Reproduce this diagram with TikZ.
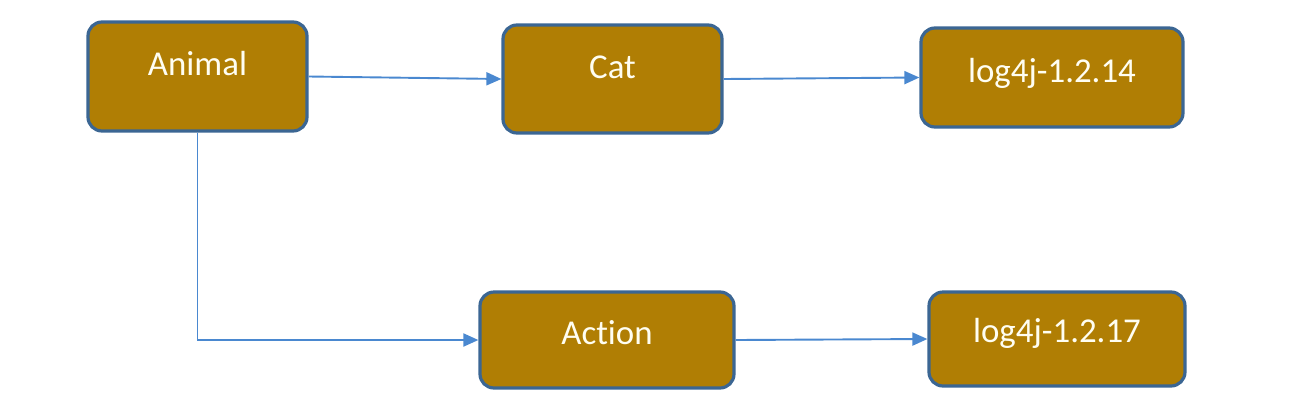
\documentclass[tikz,border=0pt]{standalone}
\usepackage{fontspec}
\setmainfont{Carlito}[Ligatures=NoCommon]
\usetikzlibrary{arrows.meta}
\definecolor{boxfill}{HTML}{B07E04}
\definecolor{boxline}{HTML}{3B6693}
\definecolor{arr}{HTML}{4A88D0}
\begin{document}
\begin{tikzpicture}[x=1bp,y=-1bp,
  box/.style={draw=boxline, fill=boxfill, line width=3.2bp, rounded corners=14bp,
    text=white!95!yellow, font=\fontsize{35}{40}\selectfont,
    text height=22bp, text depth=24bp, inner sep=0pt},
  conn/.style={draw=arr, line width=1.9bp, -{Triangle[length=15bp,width=13bp]}}]
\useasboundingbox (0,0) rectangle (1290,416);
\node[box, minimum width=219bp, minimum height=109bp] (animal) at (197.5,76.5) {Animal};
\node[box, minimum width=219bp, minimum height=108bp] (cat) at (612.5,79) {Cat};
\node[box, minimum width=262bp, minimum height=99bp, text depth=13bp] (l14) at (1052,77.5) {log4j-1.2.14};
\node[box, minimum width=254bp, minimum height=96bp, text depth=14bp] (action) at (607,340) {Action};
\node[box, minimum width=256bp, minimum height=94bp, text depth=16bp] (l17) at (1057,339) {log4j-1.2.17};
\draw[conn] (animal.east) -- (cat.west);
\draw[conn] (cat.east) -- (l14.west);
\draw[conn] (animal.south) |- (action.west);
\draw[conn] (action.east) -- (l17.west);
\end{tikzpicture}
\end{document}
